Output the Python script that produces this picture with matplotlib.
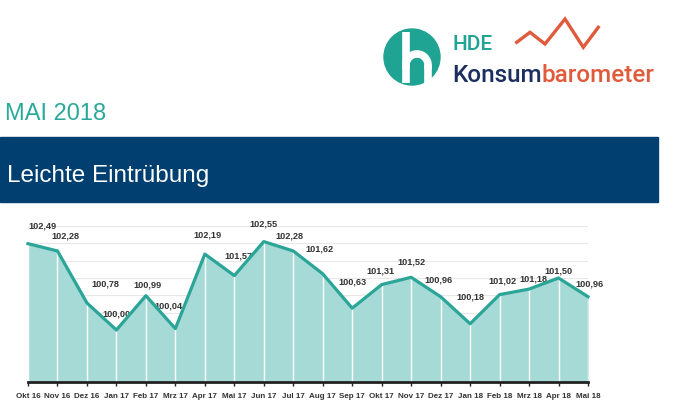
import matplotlib
matplotlib.use("Agg")
import matplotlib.pyplot as plt
from matplotlib.patches import Circle, Rectangle
import numpy as np

# ---- data ----
months = ["Okt 16", "Nov 16", "Dez 16", "Jan 17", "Feb 17", "Mrz 17", "Apr 17",
          "Mai 17", "Jun 17", "Jul 17", "Aug 17", "Sep 17", "Okt 17", "Nov 17",
          "Dez 17", "Jan 18", "Feb 18", "Mrz 18", "Apr 18", "Mai 18"]
values = [102.49, 102.28, 100.78, 100.00, 100.99, 100.04, 102.19,
          101.57, 102.55, 102.28, 101.62, 100.63, 101.31, 101.52,
          100.96, 100.18, 101.02, 101.18, 101.50, 100.96]
header_month = "MAI 2018"
headline = "Leichte Eintrübung"

# label offsets in pixels (dx, dy up) - styling only
label_dx = [14, 8, 18, 0, 2, -7, 3, 4, 0, -4, -3, 0, -1, 0, -2, 0, 3, 4, 0, 1]
label_dy = [19, 16, 20, 17, 12, 24, 20, 21, 19, 16, 26, 27, 15, 16, 18, 28, 15, 11, 8, 14]

W, H = 675, 406
fig = plt.figure(figsize=(W / 100, H / 100), dpi=100)
fig.patch.set_facecolor("white")

teal = "#2aa597"
fill_c = "#a6dad6"
navy_band = "#003f70"

# ---- overlay axes in pixel coordinates ----
ov = fig.add_axes([0, 0, 1, 1])
ov.set_xlim(0, W)
ov.set_ylim(H, 0)
ov.axis("off")
ov.set_zorder(0)

# logo circle with "h"
ov.add_patch(Circle((412, 58), 28, color="#1fa393", zorder=2))
ov.plot([406, 406], [33, 84], color="white", lw=5.5, solid_capstyle="butt", zorder=3)
t = np.linspace(np.pi, 0, 40)
ov.plot(417 + 11 * np.cos(t), 66 - 11 * np.sin(t), color="white", lw=5.5, zorder=3)
ov.plot([428, 428], [66, 84], color="white", lw=5.5, solid_capstyle="butt", zorder=3)

ov.text(453, 44, "HDE", color="#1fa393", fontsize=15, family="Roboto",
        fontweight="medium", ha="left", va="center")
zx = [516.7, 530, 545, 565, 583.3, 598.3]
zy = [43.3, 33.3, 45, 20, 48.3, 28.3]
ov.plot(zx, zy, color="#e05a3c", lw=2.4, solid_joinstyle="miter")
tk = ov.text(452, 82, "Konsum", color="#1c2f5e", fontsize=17.5, family="Roboto",
             fontweight="medium", ha="left", va="baseline")
fig.canvas.draw()
bb = tk.get_window_extent()
x_end = bb.x1
ov.text(x_end, 82, "barometer", color="#e05a3c", fontsize=17.5, family="Roboto",
        fontweight="medium", ha="left", va="baseline")

ov.text(5, 120, header_month, color="#2aa99b", fontsize=17, family="Liberation Sans",
        ha="left", va="baseline")
ov.add_patch(Rectangle((0, 138), 658, 65, color=navy_band, zorder=1))
ov.text(7, 182, headline, color="white", fontsize=17.5, family="Liberation Sans",
        ha="left", va="baseline", zorder=2)

# ---- chart axes ----
x0, x1 = 28, 588
yb, yt = 383, 227
ax = fig.add_axes([x0 / W, 1 - yb / H, (x1 - x0) / W, (yb - yt) / H])
ax.set_zorder(2)
ax.patch.set_alpha(0)
x = np.arange(len(values))
ax.set_xlim(0, len(values) - 1)
ax.set_ylim(98.5, 103)
ax.set_yticks(np.arange(98.5, 103.01, 0.5))
ax.yaxis.grid(True, color="#e8e8e8", lw=0.8)
ax.set_axisbelow(True)
ax.tick_params(axis="y", left=False, labelleft=False)

ax.fill_between(x, 98.5, values, color=fill_c, lw=0, zorder=2)
ax.vlines(x, 98.5, values, color="white", lw=1.0, zorder=3)
ax.plot(x, values, color=teal, lw=2.3, zorder=4, clip_on=False)

for i, v in enumerate(values):
    ax.annotate(f"{v:.2f}".replace(".", ","), (x[i], v),
                xytext=(label_dx[i], label_dy[i]), textcoords="offset pixels",
                ha="center", va="center", fontsize=6.6, fontweight="bold",
                family="Liberation Sans", color="#333333", annotation_clip=False)

for s in ["top", "right", "left"]:
    ax.spines[s].set_visible(False)
ax.spines["bottom"].set_color("#222222")
ax.spines["bottom"].set_linewidth(2)
ax.spines["bottom"].set_zorder(5)
ax.set_xticks(x)
ax.set_xticklabels(months, fontsize=5.8, fontweight="bold", family="Liberation Sans",
                   color="#333333")
ax.tick_params(axis="x", length=3, width=1, color="#222222", pad=4)

fig.savefig("out.png", dpi=100, facecolor="white")
